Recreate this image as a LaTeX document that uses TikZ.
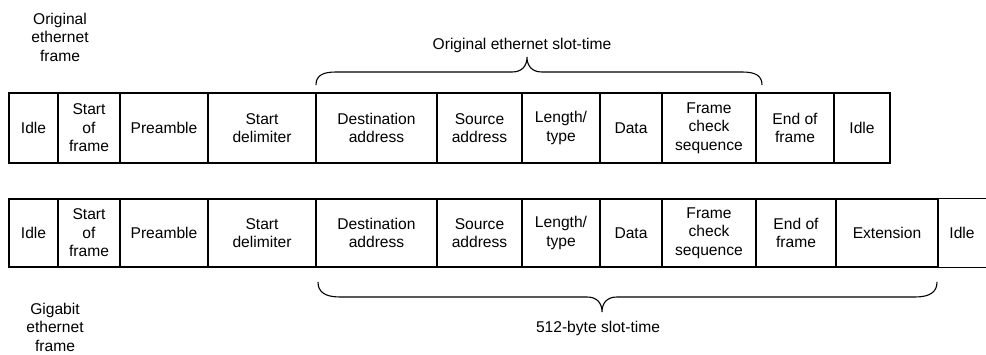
\documentclass[tikz,border=0pt]{standalone}
\usepackage{fontspec}
\setmainfont{Liberation Sans}
\begin{document}
\begin{tikzpicture}[x=1pt,y=-1pt,
  every node/.style={font=\fontsize{15.6}{18.5}\selectfont, align=center, inner sep=0pt},
  cell/.style={draw, line width=1.1pt, inner sep=0pt},
  brace/.style={line width=1.1pt}]
\useasboundingbox (0,0) rectangle (986,355);
% top row
\foreach \l/\r/\txt [count=\i] in {9/58/Idle, 58/120/{Start\\of\\frame}, 120/208/Preamble, 208/316/{Start\\delimiter}, 316/437/{Destination\\address}, 437/522/{Source\\address}, 522/600/{Length/\\type}, 600/662/Data, 662/756/{Frame\\check\\sequence}, 756/834/{End of\\frame}, 834/890/Idle}{
  \pgfmathsetmacro\w{\r-\l}
  \pgfmathsetmacro\c{(\l+\r)/2}
  \node[cell, minimum width=\w pt, minimum height=70pt] (t\i) at (\c,128) {\txt};
}
% bottom row
\foreach \l/\r/\txt [count=\i] in {9/58/Idle, 58/120/{Start\\of\\frame}, 120/208/Preamble, 208/316/{Start\\delimiter}, 316/437/{Destination\\address}, 437/522/{Source\\address}, 522/600/{Length/\\type}, 600/662/Data, 662/756/{Frame\\check\\sequence}, 756/836/{End of\\frame}, 836/938/Extension}{
  \pgfmathsetmacro\w{\r-\l}
  \pgfmathsetmacro\c{(\l+\r)/2}
  \node[cell, minimum width=\w pt, minimum height=68pt] (b\i) at (\c,233) {\txt};
}
\node[minimum width=48pt, minimum height=68pt] (b12) at (962,233) {Idle};
\draw[line width=1.1pt] (b12.north west) -- (b12.north east);
\draw[line width=1.1pt] (b12.south west) -- (b12.south east);
% labels
\node (lorig) at (60,37) {Original\\ethernet\\frame};
\node (lgig) at (55,327) {Gigabit\\ethernet\\frame};
\node (lslot) at (522,45) {Original ethernet slot-time};
\node (l512) at (598,328) {512-byte slot-time};
% braces
\draw[brace] (316,85) .. controls (316,76) and (322,72) .. (336,72) -- (512,72)
  .. controls (522,72) and (527,66) .. (527,57)
  .. controls (527,66) and (532,72) .. (542,72) -- (742,72)
  .. controls (756,72) and (762,76) .. (762,85);
\draw[brace] (318,282) .. controls (318,292) and (325,297) .. (340,297) -- (587,297)
  .. controls (597,297) and (602,303) .. (602,312)
  .. controls (602,303) and (607,297) .. (617,297) -- (915,297)
  .. controls (930,297) and (937,292) .. (937,282);
\end{tikzpicture}
\end{document}
